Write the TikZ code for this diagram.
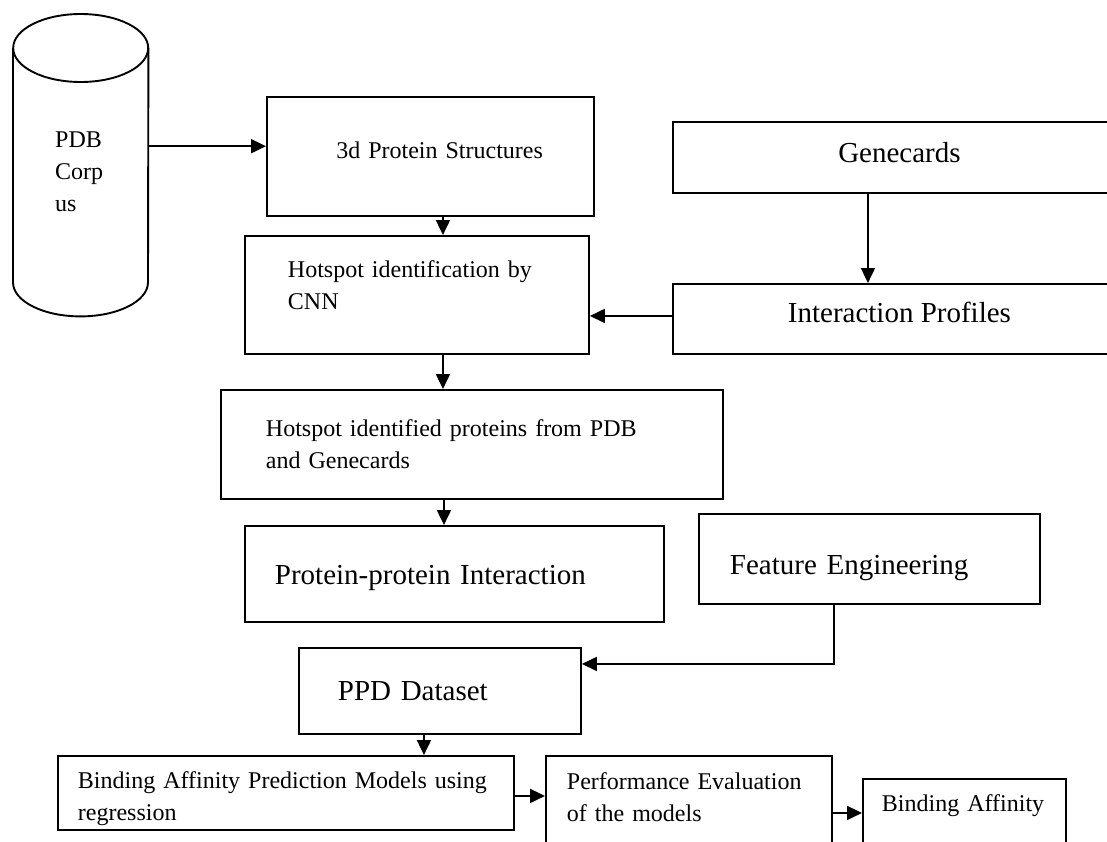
\documentclass[tikz,border=0pt]{standalone}
\usepackage{fontspec}
\setmainfont{Liberation Serif}
\usetikzlibrary{arrows.meta}

\begin{document}
\begin{tikzpicture}[
        x=1pt, y=-1pt,
        every node/.style={anchor=north west, align=left, inner ysep=0pt, font=\fontsize{24}{32}\selectfont},
        blk/.style={draw, line width=1.9pt},
        big/.style={font=\fontsize{29}{35}\selectfont},
        arrow/.style={-{Triangle[length=15pt, width=14pt]}, line width=1.9pt}
    ]
    \useasboundingbox (0,0) rectangle (1107,841);
    \clip (0,0) rectangle (1107,841);

    % Nodes
    \node [minimum width=135pt, minimum height=302pt, inner xsep=42pt, text width=51pt, text height=16pt, text depth=52pt] (pdb) at (13,14) {PDB\\Corp\\us};
    \node [blk, minimum height=119pt, inner xsep=51pt, text width=225pt, align=right, text height=16pt, text depth=12pt] (struct) at (266,96) {3d Protein Structures};
    \node [blk, minimum height=118pt, inner xsep=43pt, text width=258pt, text height=17pt, text depth=51pt] (hot) at (244,235) {Hotspot identification by\\CNN};
    \node [blk, big, minimum width=453pt, minimum height=71pt, align=center, text height=20pt, text depth=10pt] (gene) at (672,121) {Genecards};
    \node [blk, big, minimum width=453pt, minimum height=70pt, align=center, text height=20pt, text depth=12pt] (inter) at (672,283) {Interaction Profiles};
    \node [blk, minimum height=109pt, inner xsep=45pt, text width=412pt] (hotid) at (220,389) {Hotspot identified proteins from PDB\\and Genecards};
    \node [blk, big, minimum height=96pt, inner xsep=30pt, text width=359pt, text height=22pt, text depth=0pt] (ppi) at (244,525) {Protein-protein Interaction};
    \node [blk, big, minimum height=90pt, inner xsep=31pt, text width=279pt, text height=32pt, text depth=0pt] (feat) at (698,513) {Feature Engineering};
    \node [blk, big, minimum height=86pt, inner xsep=39pt, text width=204pt] (ppd) at (298,647) {PPD Dataset};
    \node [blk, minimum height=74pt, inner xsep=20pt, text width=416pt, text height=17pt, text depth=26pt] (models) at (57,755) {Binding Affinity Prediction Models using\\regression};
    \node [blk, minimum height=90pt, inner xsep=21pt, text width=244pt, text height=17pt, text depth=39pt] (perf) at (545,755) {Performance Evaluation\\of the models};
    \node [blk, minimum height=67pt, inner xsep=19pt, text width=165pt, text depth=19pt] (affinity) at (862,778) {Binding~Affinity};

    % Cylinder outline
    \draw [line width=1.9pt] ([yshift=-34pt]pdb.north) ellipse [x radius=67.5pt, y radius=34pt];
    \draw [line width=1.9pt] ([yshift=-34pt]pdb.north west) -- ([yshift=34pt]pdb.south west)
        arc [start angle=180, end angle=360, x radius=67.5pt, y radius=34pt] -- ([yshift=-34pt]pdb.north east);

    % Arrows
    \draw[arrow] ([yshift=19pt]pdb.east) -- ([yshift=19pt]pdb.east -| struct.west);
    \draw[arrow] ([xshift=12.5pt]struct.south) -- ([xshift=12.5pt]struct.south |- hot.north);
    \draw[arrow] ([xshift=-31.5pt]gene.south) -- ([xshift=-31.5pt]gene.south |- inter.north);
    \draw[arrow] ([yshift=3pt]inter.west) -- ([yshift=3pt]inter.west -| hot.east);
    \draw[arrow] ([xshift=26pt]hot.south) -- ([xshift=26pt]hot.south |- hotid.north);
    \draw[arrow] ([xshift=-28pt]hotid.south) -- ([xshift=-28pt]hotid.south |- ppi.north);
    \draw[arrow] ([xshift=-35.5pt]feat.south) |- ([yshift=27pt]ppd.east);
    \draw[arrow] ([xshift=-16pt]ppd.south) -- ([xshift=-16pt]ppd.south |- models.north);
    \draw[arrow] ([yshift=-3pt]models.east) -- ([yshift=-3pt]models.east -| perf.west);
    \draw[arrow] ([yshift=-12pt]perf.east) -- ([yshift=-12pt]perf.east -| affinity.west);

\end{tikzpicture}
\end{document}
